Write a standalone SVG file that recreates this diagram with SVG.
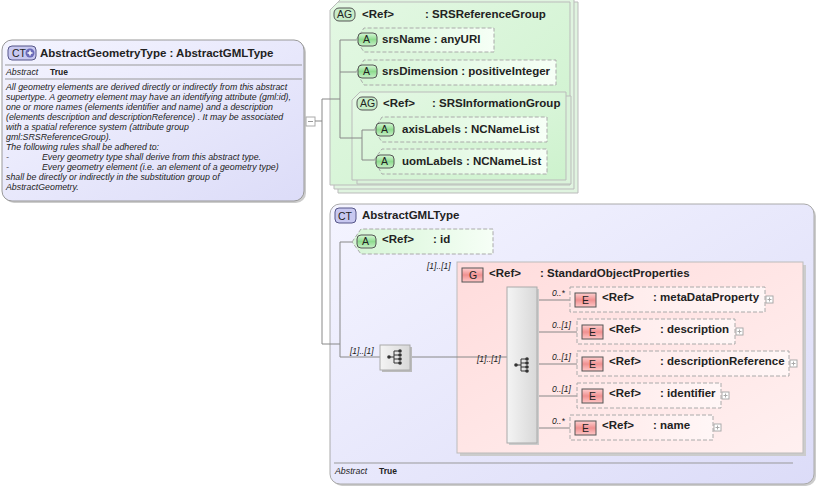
<svg xmlns="http://www.w3.org/2000/svg" width="817" height="487" viewBox="0 0 817 487">
<defs>
<linearGradient id="gBlue" x1="0" y1="0" x2="1" y2="1"><stop offset="0" stop-color="#f4f4ff"/><stop offset="1" stop-color="#dcdcf8"/></linearGradient>
<linearGradient id="gGreen" x1="0" y1="0" x2="1" y2="1"><stop offset="0" stop-color="#e4f8e4"/><stop offset="1" stop-color="#cdf2cd"/></linearGradient>
<linearGradient id="gAttr" x1="0" y1="0" x2="1" y2="0"><stop offset="0" stop-color="#d6f5d6"/><stop offset="1" stop-color="#f6fff6"/></linearGradient>
<linearGradient id="gPink" x1="0" y1="0" x2="1" y2="1"><stop offset="0" stop-color="#ffdcdc"/><stop offset="1" stop-color="#fff0f0"/></linearGradient>
<linearGradient id="gElem" x1="0" y1="0" x2="1" y2="0"><stop offset="0" stop-color="#ffe8e8"/><stop offset="1" stop-color="#fff6f6"/></linearGradient>
<linearGradient id="gBadgeA" x1="0" y1="0" x2="0" y2="1"><stop offset="0" stop-color="#d8f8d8"/><stop offset="0.5" stop-color="#8fdc8f"/><stop offset="1" stop-color="#c8f0c8"/></linearGradient>
<linearGradient id="gBadgeE" x1="0" y1="0" x2="0" y2="1"><stop offset="0" stop-color="#ffd0d0"/><stop offset="0.5" stop-color="#f09090"/><stop offset="1" stop-color="#ffc8c8"/></linearGradient>
<linearGradient id="gSeq" x1="0" y1="0" x2="1" y2="0"><stop offset="0" stop-color="#f4f4f4"/><stop offset="1" stop-color="#d8d8d8"/></linearGradient>
<g id="seqIcon">
<path d="M-7,0 H-2 M-2,-6 V6 M-2,-6 H4 M-2,-2 H4 M-2,2 H4 M-2,6 H4" stroke="#333" fill="none" stroke-width="1"/>
<circle cx="-7" cy="0" r="1.8" fill="#333"/><circle cx="4" cy="-6" r="1.8" fill="#333"/><circle cx="4" cy="-2" r="1.8" fill="#333"/><circle cx="4" cy="2" r="1.8" fill="#333"/><circle cx="4" cy="6" r="1.8" fill="#333"/>
</g>
</defs>
<style>
text{font-family:"Liberation Sans",Arial,sans-serif;fill:#222}
.t{font-size:11.5px;font-weight:bold}
.b{font-size:11.5px;font-weight:bold}
.s{font-size:8.8px;font-style:italic}
.sb{font-size:8.5px;font-weight:bold}
.card{font-size:8.5px;font-style:italic}
.ln{stroke:#888;fill:none;stroke-width:1}
.attr{fill:url(#gAttr);stroke:#aaa;stroke-dasharray:4,2}
.elem{fill:url(#gElem);stroke:#aaa;stroke-dasharray:4,2}
.bA{fill:url(#gBadgeA);stroke:#555}
.bE{fill:url(#gBadgeE);stroke:#555}
.bt{font-size:10.5px;fill:#222}
.plus{fill:#fff;stroke:#aaa}
</style>

<g id="AbstractGeometryType">
<rect x="4" y="42" width="302" height="161" rx="10" fill="#ccc"/>
<rect x="2" y="40" width="302" height="161" rx="10" fill="url(#gBlue)" stroke="#999"/>
<rect x="8" y="46" width="28" height="14" rx="4" fill="#c8c8f0" stroke="#558"/>
<text x="12" y="57" class="bt">CT</text>
<circle cx="30" cy="53" r="4.5" fill="#6a6ab8"/><path d="M27.5,53 H32.5 M30,50.5 V55.5" stroke="#fff" stroke-width="1.5"/>
<text x="40" y="57" class="t">AbstractGeometryType : AbstractGMLType</text>
<line x1="5" y1="65" x2="302" y2="65" stroke="#999"/>
<text x="6" y="75" class="s">Abstract</text><text x="50" y="75" class="sb">True</text>
<line x1="5" y1="79" x2="302" y2="79" stroke="#999"/>
<text x="6" y="90" class="s">All geometry elements are derived directly or indirectly from this abstract</text>
<text x="6" y="100" class="s">supertype. A geometry element may have an identifying attribute (gml:id),</text>
<text x="6" y="110" class="s">one or more names (elements identifier and name) and a description</text>
<text x="6" y="120" class="s">(elements description and descriptionReference) . It may be associated</text>
<text x="6" y="130" class="s">with a spatial reference system (attribute group</text>
<text x="6" y="140" class="s">gml:SRSReferenceGroup).</text>
<text x="6" y="150" class="s">The following rules shall be adhered to:</text>
<text x="6" y="160" class="s">-</text><text x="42" y="160" class="s">Every geometry type shall derive from this abstract type.</text>
<text x="6" y="170" class="s">-</text><text x="42" y="170" class="s">Every geometry element (i.e. an element of a geometry type)</text>
<text x="6" y="180" class="s">shall be directly or indirectly in the substitution group of</text>
<text x="6" y="190" class="s">AbstractGeometry.</text>
<rect x="306" y="117" width="9" height="9" class="plus"/><line x1="308" y1="121.5" x2="313" y2="121.5" stroke="#999"/>
</g>

<g id="SRSReferenceGroup">
<path d="M338,10 L346,2 H578 V193 H338 Z" fill="#e0f4e0" stroke="#bbb"/>
<path d="M334,6 L342,-2 H574 V189 H334 Z" fill="#e0f4e0" stroke="#bbb"/>
<path d="M330,10 L338,2 H570 V185 H330 Z" fill="url(#gGreen)" stroke="#bbb"/>
<rect x="334" y="8" width="21" height="13" rx="5" fill="#c8ecc8" stroke="#555"/>
<text x="337" y="18" class="bt">AG</text>
<text x="362" y="18" class="b">&lt;Ref&gt;</text><text x="425" y="18" class="b">: SRSReferenceGroup</text>
</g>

<g id="SRSInformationGroup">
<path d="M357,100 L365,96 H571 V184 H357 Z" fill="#daf2da" stroke="#bbb"/>
<path d="M352,100 L360,92 H566 V180 H352 Z" fill="url(#gGreen)" stroke="#bbb"/>
<rect x="357" y="97" width="20" height="13" rx="5" fill="#c8ecc8" stroke="#555"/>
<text x="360" y="107" class="bt">AG</text>
<text x="383" y="107" class="b">&lt;Ref&gt;</text><text x="432" y="107" class="b">: SRSInformationGroup</text>
</g>

<g id="AbstractGMLType">
<rect x="332" y="206" width="484" height="280" rx="10" fill="#ccc"/>
<rect x="330" y="204" width="484" height="280" rx="10" fill="url(#gBlue)" stroke="#aaa"/>
<rect x="335" y="208" width="21" height="15" rx="4" fill="#c8c8f0" stroke="#558"/>
<text x="338" y="220" class="bt">CT</text>
<text x="362" y="219" class="b">AbstractGMLType</text>
<line x1="334" y1="463" x2="793" y2="463" stroke="#999"/>
<text x="335" y="474" class="s">Abstract</text><text x="379" y="474" class="sb">True</text>
</g>

<g id="StandardObjectProperties">
<rect x="460" y="265" width="346" height="191" fill="#ccc"/>
<rect x="457" y="262" width="346" height="191" fill="url(#gPink)" stroke="#bbb"/>
<text x="427" y="269" class="card">[1]..[1]</text>
<rect x="462" y="268" width="21" height="14" fill="url(#gBadgeE)" stroke="#555"/><text x="469" y="279" class="bt">G</text>
<text x="489" y="277" class="b">&lt;Ref&gt;</text><text x="540" y="277" class="b">: StandardObjectProperties</text>
</g>

<g id="connectors">
<path class="ln" d="M315,121 H322 M322,99 V344 M322,99 H340 M340,40 V138 M340,40 H356 M340,72 H356 M340,138 H362 M362,130 V160 M362,130 H376 M362,160 H376"/>
<path class="ln" d="M322,344 H340 M340,242 V357 M340,242 H354 M340,357 H380 M410,357 H507"/>
<path class="ln" d="M537,300 H570 M537,332 H577 M537,364 H577 M537,396 H577 M537,428 H570"/>
</g>

<g id="srsName">
<path d="M356,40 L364,28 H494 V52 H364 Z" class="attr"/>
<rect x="358" y="33" width="19" height="13" rx="4" class="bA"/><text x="363" y="43" class="bt">A</text>
<text x="382" y="43" class="b">srsName : anyURI</text>
</g>
<g id="srsDimension">
<path d="M356,72 L364,60 H556 V85 H364 Z" class="attr"/>
<rect x="358" y="65" width="19" height="13" rx="4" class="bA"/><text x="363" y="75" class="bt">A</text>
<text x="382" y="75" class="b">srsDimension : positiveInteger</text>
</g>
<g id="axisLabels">
<path d="M374,130 L382,117 H547 V142 H382 Z" class="attr"/>
<rect x="376" y="123" width="18" height="13" rx="4" class="bA"/><text x="381" y="133" class="bt">A</text>
<text x="402" y="133" class="b">axisLabels : NCNameList</text>
</g>
<g id="uomLabels">
<path d="M374,160 L382,149 H547 V174 H382 Z" class="attr"/>
<rect x="376" y="155" width="18" height="13" rx="4" class="bA"/><text x="381" y="165" class="bt">A</text>
<text x="402" y="165" class="b">uomLabels : NCNameList</text>
</g>

<g id="id">
<path d="M352,242 L361,229 H493 V254 H361 Z" class="attr"/>
<rect x="357" y="235" width="19" height="13" rx="4" class="bA"/><text x="362" y="245" class="bt">A</text>
<text x="382" y="243" class="b">&lt;Ref&gt;</text><text x="433" y="243" class="b">: id</text>
</g>

<g id="sequence1">
<text x="350" y="354" class="card">[1]..[1]</text>
<rect x="382" y="347" width="30" height="25" fill="#bbb"/>
<rect x="380" y="345" width="30" height="25" fill="url(#gSeq)" stroke="#aaa"/>
<use href="#seqIcon" x="396" y="357"/>
</g>

<g id="sequence2">
<text x="477" y="362" class="card">[1]..[1]</text>
<rect x="509" y="289" width="30" height="156" fill="#ccc"/>
<rect x="507" y="287" width="30" height="156" fill="url(#gSeq)" stroke="#aaa"/>
<use href="#seqIcon" x="523" y="365"/>
</g>

<g id="metaDataProperty">
<text x="552" y="296" class="card">0..*</text>
<rect x="570" y="287" width="195" height="25" class="elem"/>
<rect x="575" y="293" width="21" height="14" class="bE"/><text x="582" y="304" class="bt">E</text>
<text x="602" y="301" class="b">&lt;Ref&gt;</text><text x="653" y="301" class="b">: metaDataProperty</text>
<rect x="766" y="296" width="7" height="7" class="plus"/><path d="M767.5,299.5 H771.5 M769.5,297.5 V301.5" stroke="#aaa"/>
</g>
<g id="description">
<text x="552" y="328" class="card">0..[1]</text>
<rect x="577" y="319" width="158" height="25" class="elem"/>
<rect x="582" y="325" width="21" height="14" class="bE"/><text x="589" y="336" class="bt">E</text>
<text x="609" y="333" class="b">&lt;Ref&gt;</text><text x="660" y="333" class="b">: description</text>
<rect x="736" y="328" width="7" height="7" class="plus"/><path d="M737.5,331.5 H741.5 M739.5,329.5 V333.5" stroke="#aaa"/>
</g>
<g id="descriptionReference">
<text x="552" y="360" class="card">0..[1]</text>
<rect x="577" y="351" width="212" height="25" class="elem"/>
<rect x="582" y="357" width="21" height="14" class="bE"/><text x="589" y="368" class="bt">E</text>
<text x="609" y="365" class="b">&lt;Ref&gt;</text><text x="660" y="365" class="b">: descriptionReference</text>
<rect x="790" y="360" width="7" height="7" class="plus"/><path d="M791.5,363.5 H795.5 M793.5,361.5 V365.5" stroke="#aaa"/>
</g>
<g id="identifier">
<text x="552" y="392" class="card">0..[1]</text>
<rect x="577" y="383" width="144" height="25" class="elem"/>
<rect x="582" y="389" width="21" height="14" class="bE"/><text x="589" y="400" class="bt">E</text>
<text x="609" y="397" class="b">&lt;Ref&gt;</text><text x="660" y="397" class="b">: identifier</text>
<rect x="722" y="392" width="7" height="7" class="plus"/><path d="M723.5,395.5 H727.5 M725.5,393.5 V397.5" stroke="#aaa"/>
</g>
<g id="name">
<text x="552" y="424" class="card">0..*</text>
<rect x="570" y="415" width="143" height="25" class="elem"/>
<rect x="575" y="421" width="21" height="14" class="bE"/><text x="582" y="432" class="bt">E</text>
<text x="602" y="429" class="b">&lt;Ref&gt;</text><text x="653" y="429" class="b">: name</text>
<rect x="714" y="424" width="7" height="7" class="plus"/><path d="M715.5,427.5 H719.5 M717.5,425.5 V429.5" stroke="#aaa"/>
</g>
</svg>
